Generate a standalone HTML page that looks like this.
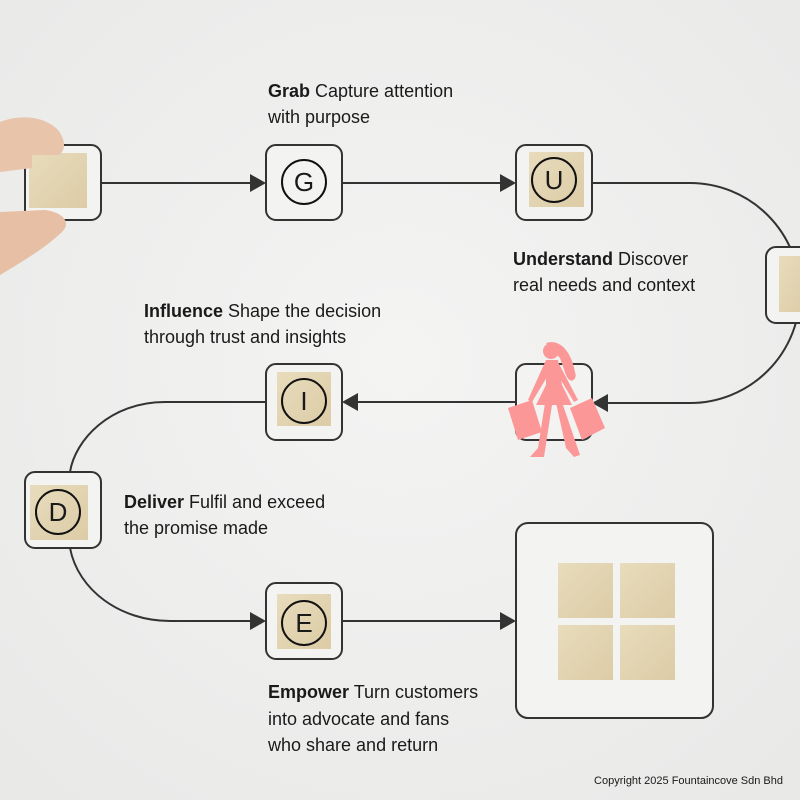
<!DOCTYPE html>
<html><head><meta charset="utf-8"><style>
html,body{margin:0;padding:0;background:#efefee;}
svg{display:block}
text{font-family:"Liberation Sans",sans-serif;fill:#1a1a1a}
</style></head><body>
<svg width="800" height="800" viewBox="0 0 800 800">
<defs>
<radialGradient id="bg" cx="50%" cy="45%" r="70%"><stop offset="0" stop-color="#f4f4f3"/><stop offset="1" stop-color="#e9e9e8"/></radialGradient>
<linearGradient id="wood" x1="0" y1="0" x2="1" y2="1"><stop offset="0" stop-color="#e8dcbc"/><stop offset="1" stop-color="#dccca6"/></linearGradient>
</defs>
<rect width="800" height="800" fill="url(#bg)"/>
<g fill="none" stroke="#333" stroke-width="2">
<path d="M101 183 H252"/>
<path d="M342 183 H502"/>
<path d="M592 183 H690 A110 110 0 0 1 690 403 H608"/>
<path d="M516 402 H358"/>
<path d="M266 402 H165 C110 402 75 440 70 472"/>
<path d="M70 548 C78 590 120 621 170 621 H252"/>
<path d="M342 621 H502"/>
</g>
<g fill="#333">
<polygon points="266,183 250,174 250,192"/>
<polygon points="516,183 500,174 500,192"/>
<polygon points="592,403 608,394 608,412"/>
<polygon points="342,402 358,393 358,411"/>
<polygon points="266,621 250,612 250,630"/>
<polygon points="516,621 500,612 500,630"/>
</g>
<g fill="#f3f3f2" stroke="#333" stroke-width="2">
<rect x="25" y="145" width="76" height="75" rx="10"/>
<rect x="266" y="145" width="76" height="75" rx="10"/>
<rect x="516" y="145" width="76" height="75" rx="10"/>
<rect x="766" y="247" width="60" height="76" rx="10"/>
<rect x="516" y="364" width="76" height="76" rx="10"/>
<rect x="266" y="364" width="76" height="76" rx="10"/>
<rect x="25" y="472" width="76" height="76" rx="10"/>
<rect x="266" y="583" width="76" height="76" rx="10"/>
<rect x="516" y="523" width="197" height="195" rx="12"/>
</g>
<g fill="url(#wood)">
<rect x="29" y="153" width="58" height="55"/>
<rect x="529" y="152" width="55" height="55"/>
<rect x="779" y="256" width="30" height="56"/>
<rect x="277" y="372" width="54" height="54"/>
<rect x="30" y="485" width="58" height="55"/>
<rect x="277" y="594" width="54" height="55"/>
<rect x="558" y="563" width="55" height="55"/>
<rect x="620" y="563" width="55" height="55"/>
<rect x="558" y="625" width="55" height="55"/>
<rect x="620" y="625" width="55" height="55"/>
</g>
<g fill="#e8c4aa">
<path d="M0 122 C20 114 45 116 58 130 C66 140 66 152 58 155 L30 155 L0 160 Z"/>
<path d="M0 150 L32 152 L32 168 L0 172 Z"/>
<path d="M0 212 L45 210 C62 212 72 222 62 232 C45 248 25 260 0 275 Z" fill="#e6bfa4"/>
</g>
<g fill="none" stroke="#111" stroke-width="2">
<circle cx="304" cy="182" r="22"/>
<circle cx="554" cy="180" r="22"/>
<circle cx="304" cy="401" r="22"/>
<circle cx="58" cy="512" r="22"/>
<circle cx="304" cy="623" r="22"/>
</g>
<g font-size="26" text-anchor="middle">
<text x="304" y="191">G</text>
<text x="554" y="189">U</text>
<text x="304" y="410">I</text>
<text x="58" y="521">D</text>
<text x="304" y="632">E</text>
</g>
<g fill="#fc9797">
<circle cx="551" cy="351" r="8"/>
<path d="M546 343 C562 338 572 355 575 372 C578 380 570 385 566 375 L560 358 Z"/>
<path d="M546 360 L558 360 L562 385 L572 405 L536 405 L546 385 Z"/>
<path d="M546 360 L528 400 L532 402 L550 372 Z"/>
<path d="M558 362 L578 400 L574 402 L556 372 Z"/>
<path d="M545 403 L538 448 L530 457 L544 457 L552 405 Z"/>
<path d="M556 403 L566 448 L574 457 L580 455 L563 405 Z"/>
<polygon points="508,408 532,400 542,432 518,440"/>
<polygon points="570,408 592,398 605,428 582,440"/>
</g>
<g font-size="18">
<text x="268" y="97"><tspan font-weight="bold">Grab</tspan> Capture attention</text>
<text x="268" y="123">with purpose</text>
<text x="513" y="265"><tspan font-weight="bold">Understand</tspan> Discover</text>
<text x="513" y="291">real needs and context</text>
<text x="144" y="317"><tspan font-weight="bold">Influence</tspan> Shape the decision</text>
<text x="144" y="343">through trust and insights</text>
<text x="124" y="508"><tspan font-weight="bold">Deliver</tspan> Fulfil and exceed</text>
<text x="124" y="534">the promise made</text>
<text x="268" y="698"><tspan font-weight="bold">Empower</tspan> Turn customers</text>
<text x="268" y="725">into advocate and fans</text>
<text x="268" y="751">who share and return</text>
</g>
<text x="783" y="784" font-size="11" text-anchor="end">Copyright 2025 Fountaincove Sdn Bhd</text>
</svg>
</body></html>
